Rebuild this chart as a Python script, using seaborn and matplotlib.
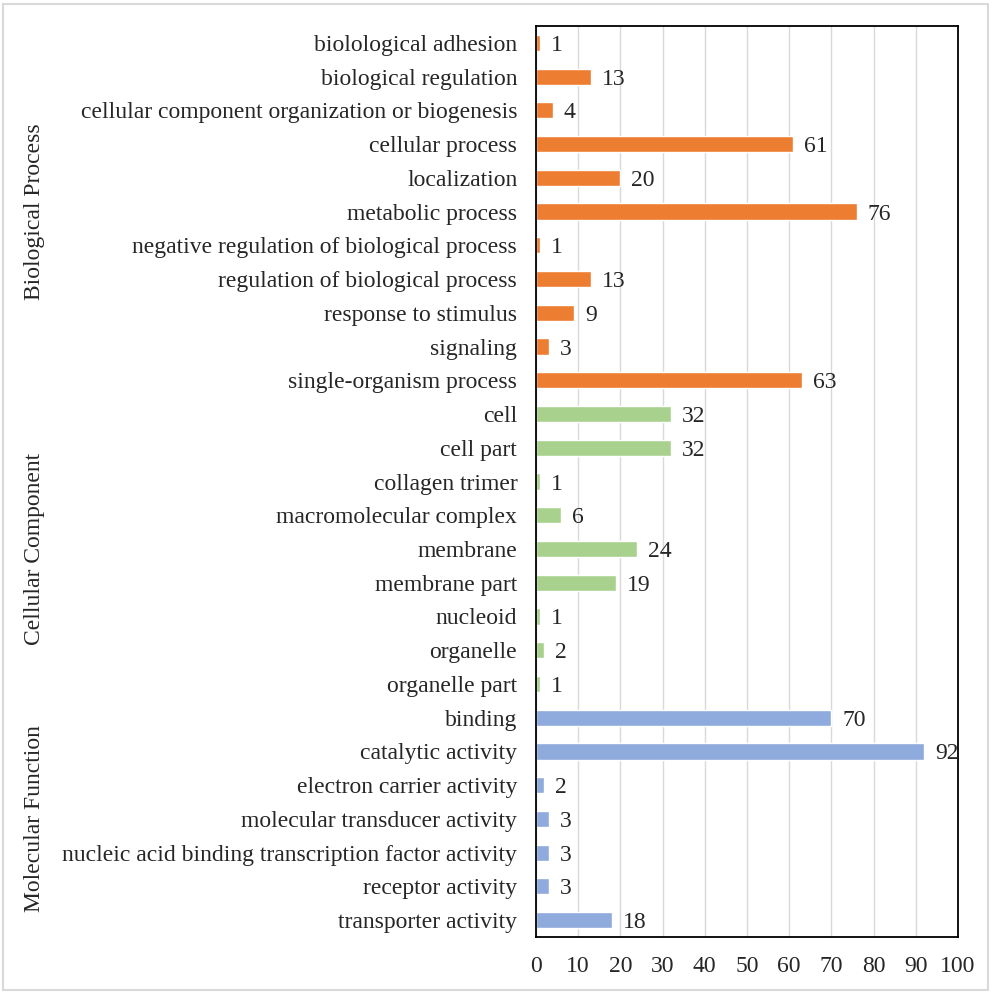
import pandas as pd
import seaborn as sns
import matplotlib.pyplot as plt
from matplotlib.patches import Rectangle

# --------------------------------------------------
# DATA
# --------------------------------------------------
bp_terms = ["biolological adhesion", "biological regulation",
            "cellular component organization or biogenesis", "cellular process",
            "localization", "metabolic process",
            "negative regulation of biological process",
            "regulation of biological process", "response to stimulus",
            "signaling", "single-organism process"]
bp_counts = [1, 13, 4, 61, 20, 76, 1, 13, 9, 3, 63]

cc_terms = ["cell", "cell part", "collagen trimer", "macromolecular complex",
            "membrane", "membrane part", "nucleoid", "organelle", "organelle part"]
cc_counts = [32, 32, 1, 6, 24, 19, 1, 2, 1]

mf_terms = ["binding", "catalytic activity", "electron carrier activity",
            "molecular transducer activity",
            "nucleic acid binding transcription factor activity",
            "receptor activity", "transporter activity"]
mf_counts = [70, 92, 2, 3, 3, 3, 18]

groups = ["Biological Process", "Cellular Component", "Molecular Function"]
group_colors = {"Biological Process": "#ED7D31",
                "Cellular Component": "#A9D18E",
                "Molecular Function": "#8FAADC"}

xticks = list(range(0, 101, 10))

df = pd.DataFrame({
    "term": bp_terms + cc_terms + mf_terms,
    "count": bp_counts + cc_counts + mf_counts,
    "group": [groups[0]] * len(bp_terms) + [groups[1]] * len(cc_terms)
             + [groups[2]] * len(mf_terms),
})

# --------------------------------------------------
# PLOT
# --------------------------------------------------
sns.set_style("white")
plt.rcParams["font.family"] = ["Liberation Serif", "DejaVu Serif"]
FS = 17

W, H = 1000, 996
fig = plt.figure(figsize=(W / 100, H / 100), dpi=100)
ax = fig.add_axes([536 / W, 1 - 937 / H, 422 / W, (937 - 26) / H])

sns.barplot(data=df, y="term", x="count", hue="group", palette=group_colors,
            orient="h", dodge=False, width=0.48, legend=False, ax=ax,
            saturation=1, zorder=2)

ax.set_xlim(0, 100)
ax.set_xticks(xticks)
ax.set_xticklabels([str(t) for t in xticks], fontsize=FS)
ax.tick_params(axis="y", labelsize=FS, length=0, pad=13.5)
ax.tick_params(axis="x", length=0, pad=14)
ax.set_xlabel("")
ax.set_ylabel("")
ax.xaxis.grid(True, color="#d9d9d9", linewidth=1, zorder=0)
ax.set_axisbelow(True)
for s in ax.spines.values():
    s.set_color("black")
    s.set_linewidth(1.3)
    s.set_zorder(3)

# value labels
for i, v in enumerate(df["count"]):
    ax.text(v + 2.6, i, str(v), va="center_baseline", ha="left", fontsize=FS,
            zorder=5, clip_on=False)

# group labels near the left edge of the figure
start = 0
for g in groups:
    k = (df["group"] == g).sum()
    mid = start + (k - 1) / 2
    y_disp = ax.transData.transform((0, mid))[1]
    yf = fig.transFigure.inverted().transform((0, y_disp))[1]
    fig.text(35 / W, yf, g, rotation=90, va="center", ha="center", fontsize=FS)
    start += k

# light outer frame
fig.patches.append(Rectangle((3 / W, 6 / H), 985 / W, 986 / H,
                             transform=fig.transFigure, fill=False,
                             edgecolor="#d9d9d9", linewidth=1.5))

fig.savefig("out.png", dpi=100)
